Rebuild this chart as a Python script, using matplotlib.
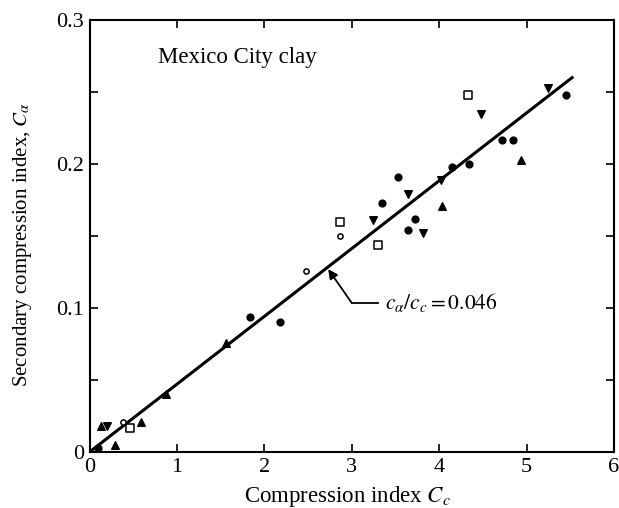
import matplotlib
matplotlib.use("Agg")
import matplotlib.pyplot as plt
import numpy as np

# data (Cc, C_alpha)
circle_filled_cc = [0.10, 1.84, 2.18, 3.34, 3.53, 3.64, 3.72, 4.15, 4.34, 4.72, 4.84, 5.45]
circle_filled_ca = [0.003, 0.094, 0.090, 0.173, 0.191, 0.154, 0.162, 0.198, 0.200, 0.217, 0.217, 0.248]

tri_down_cc = [0.20, 3.24, 3.64, 3.82, 4.02, 4.48, 5.24]
tri_down_ca = [0.018, 0.161, 0.179, 0.152, 0.189, 0.235, 0.253]

tri_up_cc = [0.13, 0.29, 0.59, 0.88, 1.56, 4.03, 4.93]
tri_up_ca = [0.018, 0.005, 0.021, 0.040, 0.076, 0.171, 0.203]

square_cc = [0.46, 2.87, 3.30, 4.33]
square_ca = [0.017, 0.160, 0.144, 0.248]

circle_open_cc = [0.38, 2.48, 2.87]
circle_open_ca = [0.021, 0.126, 0.150]

# fitted line c_alpha / c_c = 0.046
fit_cc = [0.0, 5.52]
fit_ca = [0.0, 0.260]

x_ticks = [0, 1, 2, 3, 4, 5, 6]
x_ticklabels = ['0', '1', '2', '3', '4', '5', '6']
y_ticks = [0, 0.1, 0.2, 0.3]
y_ticklabels = ['0', '0.1', '0.2', '0.3']

plt.rcParams['font.family'] = ['Liberation Serif', 'DejaVu Serif']
plt.rcParams['mathtext.fontset'] = 'stix'

fig = plt.figure(figsize=(6.19, 5.08), dpi=100)
ax = fig.add_axes([0.1446, 0.1102, 0.8474, 0.8504])

ax.plot(fit_cc, fit_ca, color='black', linewidth=2.2, zorder=2)

ax.scatter(circle_filled_cc, circle_filled_ca, marker='o', s=24, color='black', zorder=3)
ax.scatter(tri_down_cc, tri_down_ca, marker='v', s=30, color='black', zorder=3)
ax.scatter(tri_up_cc, tri_up_ca, marker='^', s=30, color='black', zorder=3)
ax.scatter(square_cc, square_ca, marker='s', s=26, facecolor='white', edgecolor='black',
           linewidth=1.1, zorder=3)
ax.scatter(circle_open_cc, circle_open_ca, marker='o', s=14, facecolor='white', edgecolor='black',
           linewidth=1.1, zorder=3)

# annotation with an elbow leader
ax.plot([3.0, 3.30], [0.1035, 0.1035], color='black', linewidth=1.3)
ax.annotate('', xy=(2.73, 0.127), xytext=(3.0, 0.1035),
            arrowprops=dict(arrowstyle='-|>', color='black', lw=1.3, mutation_scale=14,
                            shrinkA=0, shrinkB=0))
ax.text(3.38, 0.1035, r'$c_\alpha/c_c = 0.046$', fontsize=15.5, va='center', ha='left')

ax.text(0.78, 0.274, 'Mexico City clay', fontsize=16.5, va='center', ha='left')

ax.set_xlim(0, 6)
ax.set_ylim(0, 0.3)
ax.set_xticks(x_ticks)
ax.set_xticklabels(x_ticklabels)
ax.set_yticks(y_ticks)
ax.set_yticklabels(y_ticklabels)
ax.set_yticks([0.05, 0.15, 0.25], minor=True)
ax.tick_params(which='both', direction='in', top=True, right=True, labelsize=16,
               width=1.2, pad=4, length=6)
for s in ax.spines.values():
    s.set_linewidth(1.5)

ax.set_xlabel(r'Compression index $C_c$', fontsize=16.5)
ax.set_ylabel(r'Secondary compression index, $C_\alpha$', fontsize=15)
ax.xaxis.set_label_coords(0.491, -0.075)
ax.yaxis.set_label_coords(-0.106, 0.481)

fig.savefig('out.png', dpi=100)
